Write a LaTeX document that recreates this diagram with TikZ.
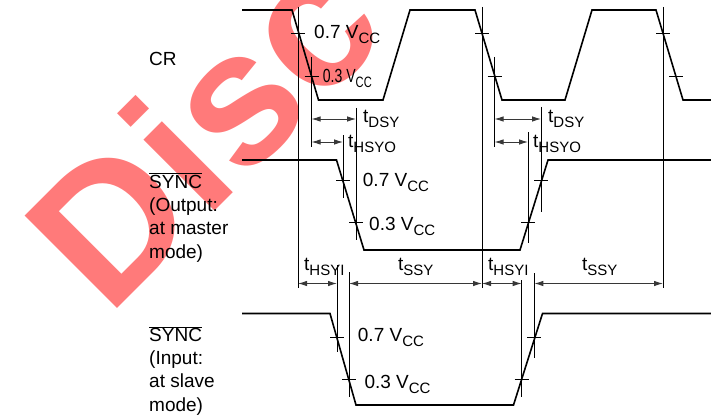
\documentclass[tikz,border=0pt]{standalone}
\usepackage{fontspec}
\setmainfont{Liberation Sans}
\usepackage{graphicx}
\usetikzlibrary{arrows.meta}
\definecolor{wm_red}{RGB}{255,122,122}
\definecolor{dim_gray}{RGB}{55,55,55}
\tikzset{
  trace/.style={line width=1.6pt, line join=miter},
  refline/.style={line width=0.8pt},
  tickmark/.style={line width=0.8pt},
  dim/.style={line width=0.9pt, dim_gray, {Latex[length=9pt,width=5.5pt]}-{Latex[length=9pt,width=5.5pt]}},
  lab/.style={anchor=base west, inner sep=0pt, font=\fontsize{19}{23}\selectfont},
}
\newcommand{\sub}[1]{\raisebox{-0.27em}{\fontsize{15}{15}\selectfont #1}}
\newcommand{\vcc}[1]{#1 V\sub{CC}}
\newcommand{\tsub}[1]{t\sub{#1}}
\begin{document}
\begin{tikzpicture}[x=1pt, y=-1pt]
  \useasboundingbox (0,0) rectangle (711,417);

  % watermark
  \begin{scope}
    \clip (0,0) rectangle (711,417);
    \node[rotate=45, anchor=base west, inner sep=0pt, text=wm_red,
      font=\fontsize{190}{190}\selectfont\bfseries] (wmark) at (108,318) {Disc};
  \end{scope}

  % signal names
  \node[lab] (crname) at (149,66) {CR};
  \node[lab] (soname) at (149,188.3) {$\overline{\mbox{SYNC}}$};
  \foreach \t [count=\i] in {{(Output:}, {at master}, {mode)}}
    \node[lab] (so\i) at (149,188.3+23.3*\i) {\t};
  \node[lab] (siname) at (149,341.7) {$\overline{\mbox{SYNC}}$};
  \foreach \t [count=\i] in {{(Input:}, {at slave}, {mode)}}
    \node[lab] (si\i) at (149,341.7+23.1*\i) {\t};

  % traces
  \draw[trace] (242,10) -- (292,10) -- (318.5,100) -- (383,100) -- (410,10)
    -- (475,10) -- (502,100) -- (565,100) -- (592,10) -- (656,10)
    -- (683,100) -- (711,100);
  \draw[trace] (242,160) -- (336.5,160) -- (364,250) -- (520,250)
    -- (548,160) -- (711,160);
  \draw[trace] (242,313.5) -- (330,313.5) -- (356,405) -- (513.5,405)
    -- (542.5,313.5) -- (711,313.5);

  % level crossings
  \coordinate (cra) at (298,33);    \coordinate (crb) at (311.5,76);
  \coordinate (crc) at (482,33);    \coordinate (crd) at (494.5,76);
  \coordinate (cre) at (663,33);    \coordinate (crf) at (676,76);
  \coordinate (soa) at (343,180);   \coordinate (sob) at (356,222.5);
  \coordinate (soc) at (528,222.5); \coordinate (sod) at (541,180);
  \coordinate (sia) at (337,337);   \coordinate (sib) at (349,379);
  \coordinate (sic) at (521.7,379); \coordinate (sid) at (534.3,337);
  \foreach \p in {cra,crb,crc,crd,cre,crf,soa,sob,soc,sod,sia,sib,sic,sid}
    \draw[tickmark] (\p) ++(-7,0) -- ++(14,0);

  % reference lines
  \foreach \x/\ya/\yb in {298/7/288, 311.5/57/147, 356/108/240, 343/135/198,
      337/265/352, 349/272/397, 482/7/288, 494.5/57/147, 541/107/212,
      528/132/243, 521.7/280/397, 534.3/273/358, 663/7/288}
    \draw[refline] (\x,\ya) -- (\x,\yb);

  % timing arrows
  \draw[dim] (311.5,119) -- (356,119);
  \draw[dim] (311.5,142) -- (343,142);
  \draw[dim] (494.5,119) -- (541,119);
  \draw[dim] (494.5,142) -- (528,142);
  \draw[dim] (298,283.5) -- (337,283.5);
  \draw[dim] (349,283.5) -- (482,283.5);
  \draw[dim] (482,283.5) -- (521.7,283.5);
  \draw[dim] (534.3,283.5) -- (663,283.5);

  % level labels
  \node[lab] (crhi) at (314,38.5) {\vcc{0.7}};
  \node[lab] (crlo) at (322.7,82.3) {\scalebox{0.74}[1]{\vcc{0.3}}};
  \node[lab] (sohi) at (362.7,186.7) {\vcc{0.7}};
  \node[lab] (solo) at (369,230) {\vcc{0.3}};
  \node[lab] (sihi) at (357.7,341.7) {\vcc{0.7}};
  \node[lab] (silo) at (364.3,388.3) {\vcc{0.3}};

  % timing labels
  \node[lab] (dsya) at (363,122) {\tsub{DSY}};
  \node[lab] (hsyoa) at (348,147) {\tsub{HSYO}};
  \node[lab] (dsyb) at (548,122) {\tsub{DSY}};
  \node[lab] (hsyob) at (533,147) {\tsub{HSYO}};
  \node[lab] (hsyia) at (304,270) {\tsub{HSYI}};
  \node[lab] (ssya) at (398,270) {\tsub{SSY}};
  \node[lab] (hsyib) at (488,270) {\tsub{HSYI}};
  \node[lab] (ssyb) at (582,270) {\tsub{SSY}};
\end{tikzpicture}
\end{document}
